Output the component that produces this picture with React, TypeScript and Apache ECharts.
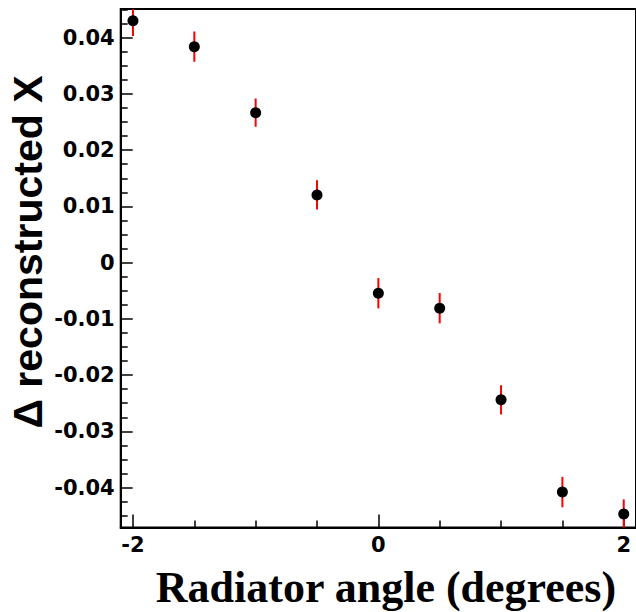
import React, { useEffect, useRef } from "react";
import * as echarts from "echarts";

const angles = [-2, -1.5, -1, -0.5, 0, 0.5, 1, 1.5, 2];
const deltaX = [0.0430, 0.0384, 0.02667, 0.01204, -0.00544, -0.0081, -0.0244, -0.0408, -0.0447];
const errors = [0.0027, 0.0027, 0.0025, 0.0026, 0.0027, 0.0027, 0.0026, 0.0027, 0.0026];

const yMajorTicks = [-0.04, -0.03, -0.02, -0.01, 0, 0.01, 0.02, 0.03, 0.04];
const yMinorTicks = [
  -0.045, -0.0425, -0.0375, -0.035, -0.0325, -0.0275, -0.025, -0.0225, -0.0175, -0.015, -0.0125,
  -0.0075, -0.005, -0.0025, 0.0025, 0.005, 0.0075, 0.0125, 0.015, 0.0175, 0.0225, 0.025, 0.0275,
  0.0325, 0.035, 0.0375, 0.0425, 0.045,
];
const xMajorTicks = [-2, 0, 2];
const xMinorTicks = [-1.5, -1, -0.5, 0.5, 1, 1.5];

const xTitle = "Radiator angle (degrees)";
const yTitle = "Δ reconstructed X";

const Y_MIN = -0.0471;
const Y_MAX = 0.0451;
const X_MIN = -2.1;
const X_MAX = 2.1;

const tickFont = { fontFamily: "DejaVu Sans", fontWeight: "bold" as const, fontSize: 21, color: "#000" };

export default function App() {
  const ref = useRef<HTMLDivElement>(null);
  useEffect(() => {
    if (!ref.current) return;
    const chart = echarts.init(ref.current, null, { renderer: "svg" });
    const fmtY = (v: number) => (Math.abs(v) < 1e-9 ? "0" : v.toFixed(2));
    chart.setOption({
      animation: false,
      backgroundColor: "#fff",
      grid: {
        left: 120.7,
        right: -2.3,
        top: 9,
        bottom: 84.5,
        show: true,
        borderColor: "#000",
        borderWidth: 2,
        backgroundColor: "transparent",
      },
      xAxis: [
        {
          type: "value",
          min: X_MIN,
          max: X_MAX,
          position: "bottom",
          splitLine: { show: false },
          axisLine: { show: true, onZero: false, lineStyle: { color: "#000", width: 2 } },
          axisTick: { show: true, inside: true, length: 13, customValues: xMajorTicks, lineStyle: { color: "#000", width: 1.5 } },
          axisLabel: { show: true, customValues: xMajorTicks, margin: 7, ...tickFont, formatter: (v: number) => String(v) },
        },
        {
          type: "value",
          min: X_MIN,
          max: X_MAX,
          position: "bottom",
          offset: 0,
          splitLine: { show: false },
          axisLine: { show: false, onZero: false },
          axisTick: { show: true, inside: true, length: 7, customValues: xMinorTicks, lineStyle: { color: "#000", width: 1.5 } },
          axisLabel: { show: false },
        },
      ],
      yAxis: [
        {
          type: "value",
          min: Y_MIN,
          max: Y_MAX,
          position: "left",
          splitLine: { show: false },
          axisLine: { show: true, onZero: false, lineStyle: { color: "#000", width: 2 } },
          axisTick: { show: true, inside: true, length: 12, customValues: yMajorTicks, lineStyle: { color: "#000", width: 1.5 } },
          axisLabel: { show: true, customValues: yMajorTicks, margin: 6, ...tickFont, formatter: fmtY },
        },
        {
          type: "value",
          min: Y_MIN,
          max: Y_MAX,
          position: "left",
          offset: 0,
          splitLine: { show: false },
          axisLine: { show: false, onZero: false },
          axisTick: { show: true, inside: true, length: 7, customValues: yMinorTicks, lineStyle: { color: "#000", width: 1.5 } },
          axisLabel: { show: false },
        },
      ],
      graphic: [
        {
          type: "text",
          x: 28,
          y: 252,
          rotation: Math.PI / 2,
          style: {
            text: yTitle,
            font: 'bold 41px "Liberation Sans"',
            fill: "#000",
            textAlign: "center",
            textVerticalAlign: "middle",
          },
        },
        {
          type: "text",
          x: 386,
          y: 587,
          style: {
            text: xTitle,
            font: 'bold 44px "Liberation Serif"',
            fill: "#000",
            textAlign: "center",
            textVerticalAlign: "middle",
          },
        },
      ],
      series: [
        {
          type: "custom",
          xAxisIndex: 0,
          yAxisIndex: 0,
          clip: true,
          data: angles.map((a, i) => [a, deltaX[i], errors[i]]),
          encode: { x: 0, y: 1 },
          renderItem: (_params: any, api: any) => {
            const x = api.value(0);
            const y = api.value(1);
            const e = api.value(2);
            const p1 = api.coord([x, y - e]);
            const p2 = api.coord([x, y + e]);
            return {
              type: "line",
              shape: { x1: p1[0], y1: p1[1], x2: p2[0], y2: p2[1] },
              style: { stroke: "#ff0000", lineWidth: 2 },
            };
          },
          z: 2,
        },
        {
          type: "scatter",
          xAxisIndex: 0,
          yAxisIndex: 0,
          data: angles.map((a, i) => [a, deltaX[i]]),
          symbol: "circle",
          symbolSize: 11,
          itemStyle: { color: "#000", opacity: 1 },
          z: 3,
        },
      ],
    });
    return () => chart.dispose();
  }, []);
  return (
    <div
      ref={ref}
      style={{ position: "fixed", left: 0, top: 0, width: 636, height: 612, background: "#fff" }}
    />
  );
}
